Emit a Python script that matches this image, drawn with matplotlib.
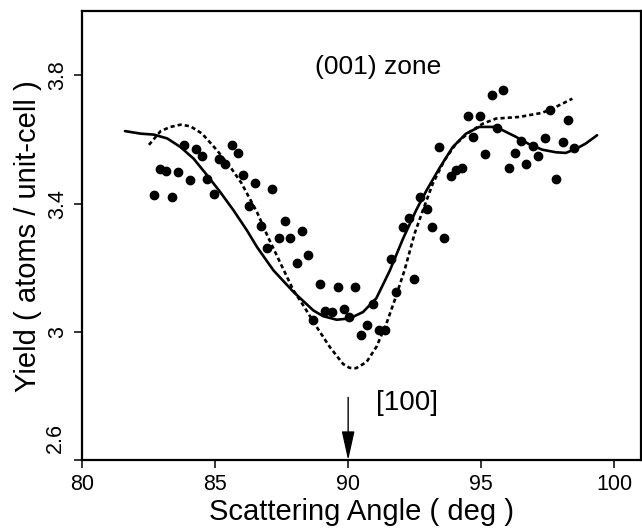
import matplotlib
matplotlib.use("Agg")
import matplotlib.pyplot as plt

plt.rcParams["font.family"] = ["Liberation Sans", "DejaVu Sans"]
plt.rcParams["lines.scale_dashes"] = False

# measured yield (dots)
angle = [82.71, 82.92, 83.17, 83.39, 83.60, 83.82, 84.04, 84.27, 84.49, 84.71,
         84.94, 85.15, 85.38, 85.62, 85.84, 86.04, 86.27, 86.51, 86.72, 86.94,
         87.15, 87.39, 87.63, 87.83, 88.07, 88.28, 88.49, 88.68, 88.94, 89.14,
         89.38, 89.60, 89.83, 90.04, 90.26, 90.50, 90.71, 90.95, 91.16, 91.37,
         91.61, 91.81, 92.06, 92.28, 92.49, 92.72, 92.95, 93.17, 93.41, 93.60,
         93.85, 94.06, 94.27, 94.50, 94.71, 94.94, 95.15, 95.39, 95.61, 95.83,
         96.06, 96.28, 96.50, 96.70, 96.94, 97.15, 97.39, 97.60, 97.82, 98.06,
         98.27, 98.49]
yield_meas = [3.428, 3.509, 3.502, 3.420, 3.499, 3.584, 3.474, 3.571, 3.548, 3.478,
              3.429, 3.538, 3.523, 3.582, 3.557, 3.488, 3.394, 3.464, 3.329, 3.263,
              3.447, 3.292, 3.347, 3.294, 3.215, 3.315, 3.239, 3.036, 3.148, 3.064,
              3.061, 3.141, 3.071, 3.045, 3.141, 2.990, 3.023, 3.088, 3.007, 3.007,
              3.227, 3.125, 3.326, 3.355, 3.165, 3.421, 3.382, 3.327, 3.576, 3.292,
              3.486, 3.504, 3.512, 3.674, 3.608, 3.672, 3.556, 3.739, 3.636, 3.753,
              3.511, 3.559, 3.594, 3.523, 3.580, 3.548, 3.606, 3.692, 3.477, 3.591,
              3.662, 3.572]

# solid curve
solid_x = [81.61, 82.20, 82.70, 83.20, 83.70, 84.19, 84.70, 85.19, 85.69, 86.19,
           86.57, 87.19, 87.94, 88.69, 89.06, 89.57, 90.06, 90.56, 91.06, 91.56,
           92.06, 92.56, 92.94, 93.43, 93.93, 94.43, 94.93, 95.56, 96.31, 96.81,
           97.30, 97.81, 98.18, 98.55, 98.93, 99.36]
solid_y = [3.626, 3.618, 3.615, 3.603, 3.576, 3.540, 3.488, 3.436, 3.379, 3.317,
           3.265, 3.192, 3.125, 3.067, 3.049, 3.038, 3.042, 3.062, 3.105, 3.190,
           3.290, 3.380, 3.440, 3.510, 3.576, 3.618, 3.639, 3.639, 3.608, 3.585,
           3.568, 3.560, 3.558, 3.570, 3.587, 3.613]

# dashed curve
dash_x = [82.51, 82.95, 83.32, 83.70, 84.07, 84.51, 85.07, 85.57, 85.98, 86.57,
          86.99, 87.94, 88.31, 88.82, 89.31, 89.81, 90.05, 90.30, 90.69, 91.06,
          91.44, 91.75, 92.12, 92.50, 92.81, 93.18, 93.62, 94.06, 94.56, 95.06,
          95.56, 96.43, 97.30, 97.85, 98.43]
dash_y = [3.583, 3.626, 3.639, 3.646, 3.641, 3.618, 3.566, 3.514, 3.465, 3.374,
          3.295, 3.130, 3.083, 3.015, 2.953, 2.900, 2.888, 2.887, 2.906, 2.953,
          3.026, 3.099, 3.192, 3.307, 3.379, 3.462, 3.535, 3.587, 3.623, 3.649,
          3.665, 3.670, 3.683, 3.703, 3.727]

x_ticks = [80, 85, 90, 95, 100]
y_ticks = [2.6, 3.0, 3.4, 3.8]
y_tick_labels = ["", "3", "3.4", "3.8"]

fig = plt.figure(figsize=(6.42, 5.29), dpi=100)
ax = fig.add_axes([0.128, 0.130, 0.870, 0.849])

ax.plot(solid_x, solid_y, color="black", lw=1.9, solid_capstyle="round")
ax.plot(dash_x, dash_y, color="black", lw=1.9, dashes=(3.0, 2.2))
ax.plot(angle, yield_meas, "o", color="black", ms=6, mec="black")

ax.set_xlim(80, 101)
ax.set_ylim(2.6, 4.0)
ax.set_xticks(x_ticks)
ax.set_xticklabels([str(t) for t in x_ticks], fontsize=15.5)
ax.set_yticks(y_ticks)
ax.set_yticklabels(y_tick_labels, fontsize=15.5, rotation=90, va="center")
# the 2.6 label sits raised above the corner
ax.annotate("2.6", xy=(0, 2.6), xycoords=("axes fraction", "data"),
            xytext=(-12, 16), textcoords="offset points", fontsize=15.5,
            rotation=90, ha="right", va="center")
ax.tick_params(direction="out", length=6, width=1.1, pad=4)
for side in ["left", "bottom", "top", "right"]:
    ax.spines[side].set_linewidth(1.6)

ax.set_xlabel("Scattering Angle ( deg )", fontsize=21, labelpad=2)
ax.set_ylabel("Yield ( atoms / unit-cell )", fontsize=21, labelpad=4)

ax.text(91.11, 3.825, "(001) zone", fontsize=19, ha="center", va="center")
ax.text(92.22, 2.779, "[100]", fontsize=20, ha="center", va="center")
ax.annotate("", xy=(90, 2.6), xytext=(90, 2.796),
            arrowprops=dict(arrowstyle="-|>,head_length=0.9,head_width=0.2",
                            mutation_scale=20, color="black", lw=1.0,
                            shrinkA=0, shrinkB=0))

fig.savefig("out.png", dpi=100)
